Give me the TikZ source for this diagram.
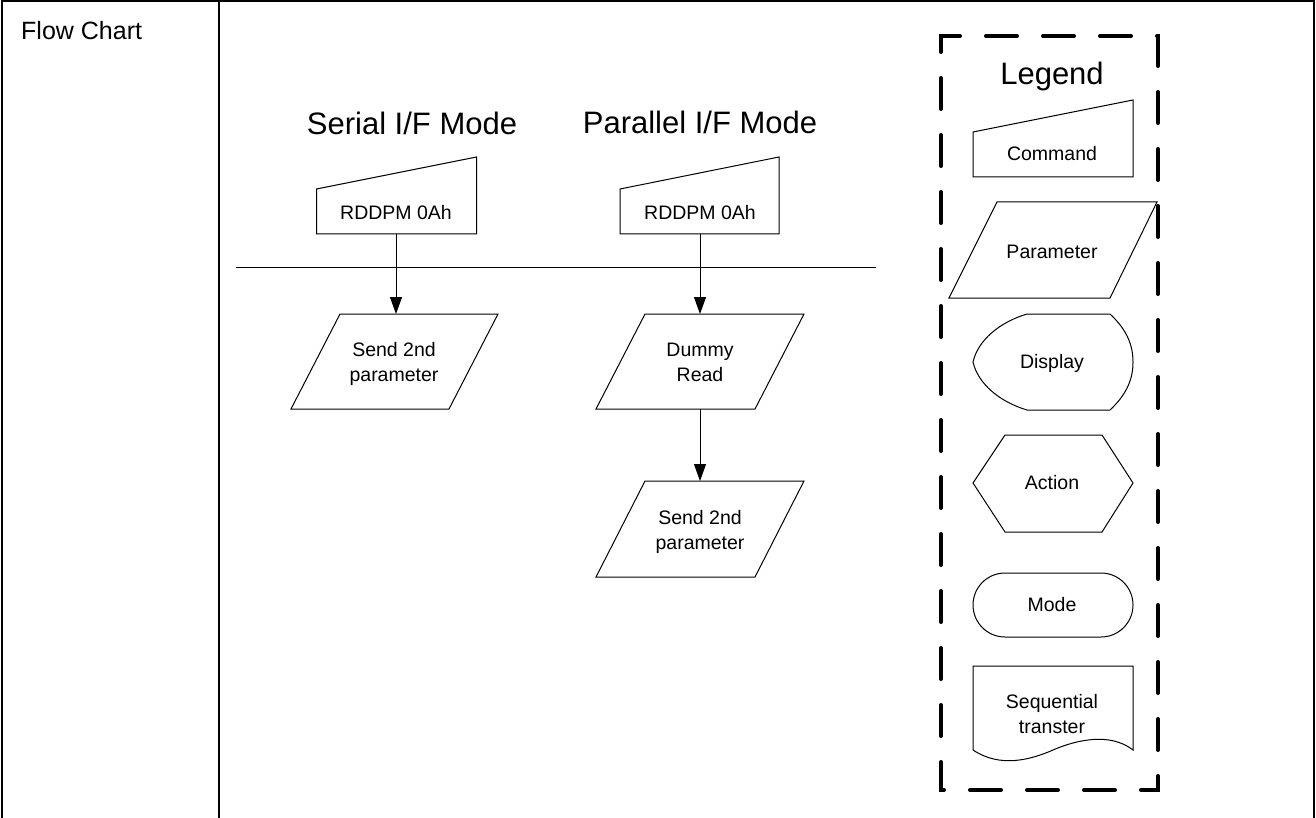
\documentclass[tikz,border=0pt]{standalone}
\usepackage{fontspec}
\setmainfont{Liberation Sans}
\usetikzlibrary{arrows.meta}
\begin{document}
\begin{tikzpicture}[x=1pt,y=-1pt,
  shp/.style={draw=black,line width=1pt,line join=miter},
  txt/.style={inner sep=0pt,align=center,font=\fontsize{19.5}{25}\selectfont},
  ttl/.style={inner sep=0pt,font=\fontsize{31}{37}\selectfont},
  arr/.style={draw=black,line width=1pt,-{Triangle[length=17pt,width=12pt]}},
  framelines/.style={draw=black,line width=2pt},
  legendbox/.style={draw=black,line width=4pt,line cap=round,dash pattern=on 31pt off 26pt}]
\useasboundingbox (0,0) rectangle (1316,818);
\fill[white] (0,0) rectangle (1316,818);

% table frame
\draw[framelines] (2,818) -- (2,1.5) -- (1314,1.5) -- (1314,818);
\draw[framelines] (219,1.5) -- (219,818);
\node[anchor=base west,inner sep=0pt,font=\fontsize{25}{30}\selectfont] (fc) at (21,39.3) {Flow Chart};

% titles
\node[ttl] (tSerial) at (412,123.7) {Serial I/F Mode};
\node[ttl] (tPar) at (700,122) {Parallel I/F Mode};

% separator line
\coordinate (sepL) at (236,267);
\coordinate (sepR) at (876,267);
\draw[line width=1pt] (sepL) -- (sepR);

% serial column
\draw[shp] (316.5,189) -- (476.5,157) -- (476.5,234) -- (316.5,234) -- cycle;
\node[txt] (sCmd) at (396,213) {RDDPM 0Ah};
\coordinate (sCmdB) at (396,234);
\draw[shp] (340,314) -- (498,314) -- (449,409) -- (291,409) -- cycle;
\node[txt] (sPar) at (394,364) {Send 2nd\\parameter};
\coordinate (sParT) at (396,314);
\draw[arr] (sCmdB) -- (sParT);

% parallel column
\draw[shp] (620,189) -- (779,157) -- (779,234) -- (620,234) -- cycle;
\node[txt] (pCmd) at (700,213) {RDDPM 0Ah};
\coordinate (pCmdB) at (700,234);
\draw[shp] (645,314) -- (804,314) -- (755,409) -- (596,409) -- cycle;
\node[txt] (pDum) at (700,362) {Dummy\\Read};
\coordinate (pDumT) at (700,314);
\coordinate (pDumB) at (700,409);
\draw[shp] (645,481) -- (804,481) -- (755,577) -- (596,577) -- cycle;
\node[txt] (pPar) at (700,531.5) {Send 2nd\\parameter};
\coordinate (pParT) at (700,481);
\draw[arr] (pCmdB) -- (pDumT);
\draw[arr] (pDumB) -- (pParT);

% legend box
\draw[legendbox] (941,48) -- (941,36) -- (1158,36) -- (1158,790) -- (941,790) -- cycle;
\node[ttl] (lTitle) at (1052,76.3) {Legend};

% command
\draw[shp] (973,132) -- (1133,100) -- (1133,177) -- (973,177) -- cycle;
\node[txt] (lCmd) at (1052,154) {Command};
% parameter
\draw[shp] (997,202) -- (1157,202) -- (1110,298) -- (949,298) -- cycle;
\node[txt] (lPar) at (1052,252) {Parameter};
% display
\draw[shp] (1027,314) -- (1110,314)
  .. controls (1126,329) and (1133,344) .. (1133,362)
  .. controls (1133,380) and (1126,395) .. (1110,410)
  -- (1027,410)
  .. controls (1000,402) and (978,384) .. (973,362)
  .. controls (978,340) and (1000,322) .. (1027,314) -- cycle;
\node[txt] (lDisp) at (1052,363.7) {Display};
% action
\draw[shp] (973,483) -- (1005,435) -- (1102,435) -- (1133,483) -- (1102,532) -- (1005,532) -- cycle;
\node[txt] (lAct) at (1052,483) {Action};
% mode
\draw[shp,rounded corners=32pt] (973,573) rectangle (1133,637);
\node[txt] (lMode) at (1052,605) {Mode};
% sequential transfer
\draw[shp] (973,750) -- (973,666) -- (1133,666) -- (1133,750)
  .. controls (1110,732) and (1076,740) .. (1053,750)
  .. controls (1030,760) and (1000,768) .. (973,750) -- cycle;
\node[txt] (lSeq) at (1052,714) {Sequential\\transter};
\end{tikzpicture}
\end{document}
